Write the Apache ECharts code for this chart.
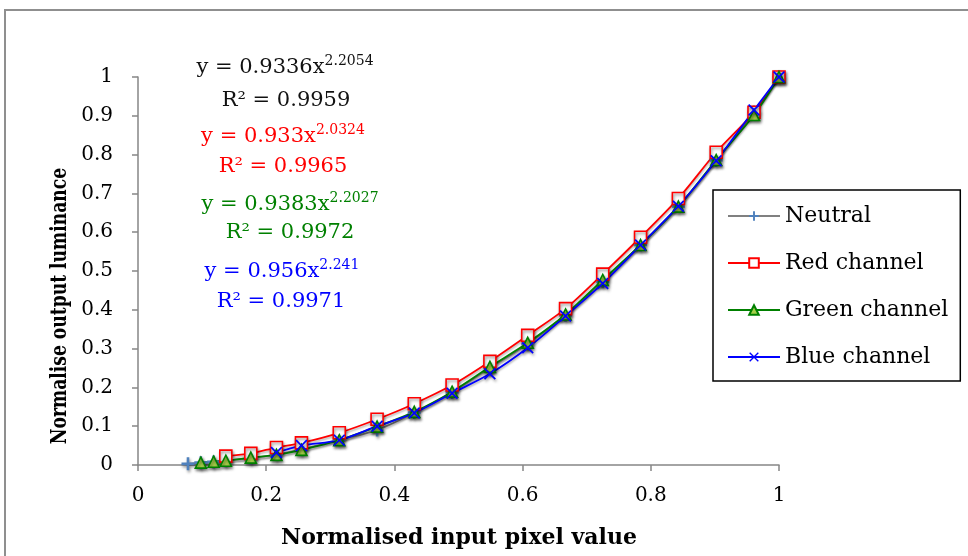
<!DOCTYPE html>
<html>
<head>
<meta charset="utf-8">
<script src="https://cdn.jsdelivr.net/npm/echarts@6/dist/echarts.min.js"></script>
<style>html,body{margin:0;padding:0;background:#fff}#c{width:968px;height:556px}</style>
</head>
<body>
<div id="c"></div>
<script>
// Normalised input pixel values (x)
var xValues = [0.078, 0.098, 0.118, 0.137, 0.176, 0.216, 0.255, 0.314, 0.373, 0.431, 0.490, 0.549, 0.608, 0.667, 0.725, 0.784, 0.843, 0.902, 0.961, 1.000];
// Normalised output luminance (y) per series
var neutralY = [0.003, 0.006, 0.008, 0.011, 0.018, 0.027, 0.040, 0.065, 0.090, 0.135, 0.187, 0.250, 0.312, 0.386, 0.472, 0.567, 0.666, 0.785, 0.910, 1.000];
var redY     = [0.023, 0.030, 0.045, 0.057, 0.083, 0.118, 0.158, 0.206, 0.267, 0.334, 0.403, 0.492, 0.587, 0.687, 0.806, 0.909, 1.000];
var greenY   = [0.006, 0.0085, 0.011, 0.019, 0.026, 0.039, 0.064, 0.099, 0.137, 0.189, 0.253, 0.315, 0.388, 0.477, 0.567, 0.666, 0.786, 0.902, 1.000];
var blueY    = [0.032, 0.050, 0.064, 0.100, 0.134, 0.185, 0.235, 0.302, 0.384, 0.468, 0.567, 0.667, 0.784, 0.915, 1.000];
var seriesNames = ['Neutral', 'Red channel', 'Green channel', 'Blue channel'];
var xTickLabels = ['0', '0.2', '0.4', '0.6', '0.8', '1'];
var xAxisTitle = 'Normalised input pixel value';
var yAxisTitle = 'Normalise output luminance';
var equations = [
  {eq: '0.9336x', exp: '2.2054', r2: '0.9959'},
  {eq: '0.933x', exp: '2.0324', r2: '0.9965'},
  {eq: '0.9383x', exp: '2.2027', r2: '0.9972'},
  {eq: '0.956x', exp: '2.241', r2: '0.9971'}
];

function pairs(ys) {
  var off = xValues.length - ys.length;
  return ys.map(function (y, i) { return [xValues[i + off], y]; });
}

var serif = 'DejaVu Serif';
var shadow = {shadowBlur: 3, shadowColor: 'rgba(0,0,0,0.45)', shadowOffsetX: 1, shadowOffsetY: 2};
var plusPath = 'path://M4,0h2v4h4v2h-4v4h-2v-4h-4v-2h4z';
var crossPath = 'path://M0,1 L1,0 L5,4 L9,0 L10,1 L6,5 L10,9 L9,10 L5,6 L1,10 L0,9 L4,5 Z';

function lineSeries(name, ys, color, symbol, size, itemStyle) {
  return {
    name: name, type: 'line', data: pairs(ys), smooth: 0.3,
    symbol: symbol, symbolSize: size, showAllSymbol: true,
    lineStyle: {color: color, width: 1.8, shadowBlur: 2, shadowColor: 'rgba(0,0,0,0.3)', shadowOffsetY: 2},
    itemStyle: Object.assign(itemStyle, shadow),
    emphasis: {disabled: true}
  };
}

var eqColors = ['#111111', '#ff0000', '#008000', '#0000ff'];
var eqPos = [[285, 68, 286, 101], [283, 137, 283, 167], [290, 205, 290, 233], [282, 272, 281, 302]];
var graphics = [{
  type: 'rect', shape: {x: 5, y: 10, width: 1000, height: 600},
  style: {fill: 'none', stroke: '#8f8f8f', lineWidth: 2}, silent: true, z: -10
}, {
  type: 'text', x: 459, y: 538,
  style: {text: xAxisTitle, align: 'center', verticalAlign: 'middle',
    font: 'bold 22px "DejaVu Serif"', fill: '#000'}
}, {
  type: 'text', x: 60, y: 306, rotation: Math.PI / 2, scaleX: 0.78,
  style: {text: yAxisTitle, align: 'center', verticalAlign: 'middle',
    font: 'bold 22px "DejaVu Serif"', fill: '#000'}
}];
equations.forEach(function (e, i) {
  var c = eqColors[i];
  graphics.push({
    type: 'text', x: eqPos[i][0], y: eqPos[i][1],
    style: {
      text: '{n|y = ' + e.eq + '}{s|' + e.exp + '}',
      align: 'center', verticalAlign: 'middle',
      rich: {
        n: {fontFamily: serif, fontSize: 21, fill: c, color: c, lineHeight: 27},
        s: {fontFamily: serif, fontSize: 14, fill: c, color: c, lineHeight: 15, verticalAlign: 'top'}
      }
    }, z: 50
  });
  graphics.push({
    type: 'text', x: eqPos[i][2], y: eqPos[i][3],
    style: {
      text: 'R² = ' + e.r2, align: 'center', verticalAlign: 'middle',
      font: '21px "' + serif + '"', fill: c
    }, z: 50
  });
});

var chart = echarts.init(document.getElementById('c'), null, {renderer: 'canvas'});
chart.setOption({
  animation: false,
  backgroundColor: '#fff',
  grid: {left: 138, top: 77, width: 641, height: 388, containLabel: false},
  xAxis: {
    type: 'value', min: 0, max: 1, interval: 0.2,
    axisLine: {show: true, lineStyle: {color: '#868686', width: 1.5}},
    axisTick: {show: true, length: 6, lineStyle: {color: '#868686', width: 1.5}},
    axisLabel: {
      fontFamily: serif, fontSize: 20, color: '#000', margin: 21,
      formatter: function (v) { return xTickLabels[Math.round(v / 0.2)]; }
    },
    splitLine: {show: false}
  },
  yAxis: {
    type: 'value', min: 0, max: 1, interval: 0.1,
    axisLine: {show: true, lineStyle: {color: '#868686', width: 1.5}},
    axisTick: {show: true, length: 6, lineStyle: {color: '#868686', width: 1.5}},
    axisLabel: {
      fontFamily: serif, fontSize: 20, color: '#000', margin: 25,
      formatter: function (v) { return String(Math.round(v * 10) / 10); }
    },
    splitLine: {show: false}
  },
  legend: {
    orient: 'vertical', left: 713, top: 190,
    padding: [14, 12, 12, 14], itemGap: 23, itemWidth: 52, itemHeight: 12,
    borderColor: '#000', borderWidth: 1.5, backgroundColor: '#fff',
    textStyle: {fontFamily: serif, fontSize: 22, color: '#000', lineHeight: 24},
    data: seriesNames
  },
  graphic: graphics,
  series: [
    lineSeries(seriesNames[0], neutralY, '#808080', plusPath, 13, {color: '#4f81bd', borderWidth: 0}),
    lineSeries(seriesNames[1], redY, '#ff0000', 'rect', 12, {color: '#ffffff', borderColor: '#ff0000', borderWidth: 1.6}),
    lineSeries(seriesNames[2], greenY, '#008000', 'triangle', 11, {color: '#a6d04a', borderColor: '#008000', borderWidth: 1.6}),
    lineSeries(seriesNames[3], blueY, '#0000ff', crossPath, 12, {color: '#0000ff', borderWidth: 0})
  ]
});
</script>
</body>
</html>
